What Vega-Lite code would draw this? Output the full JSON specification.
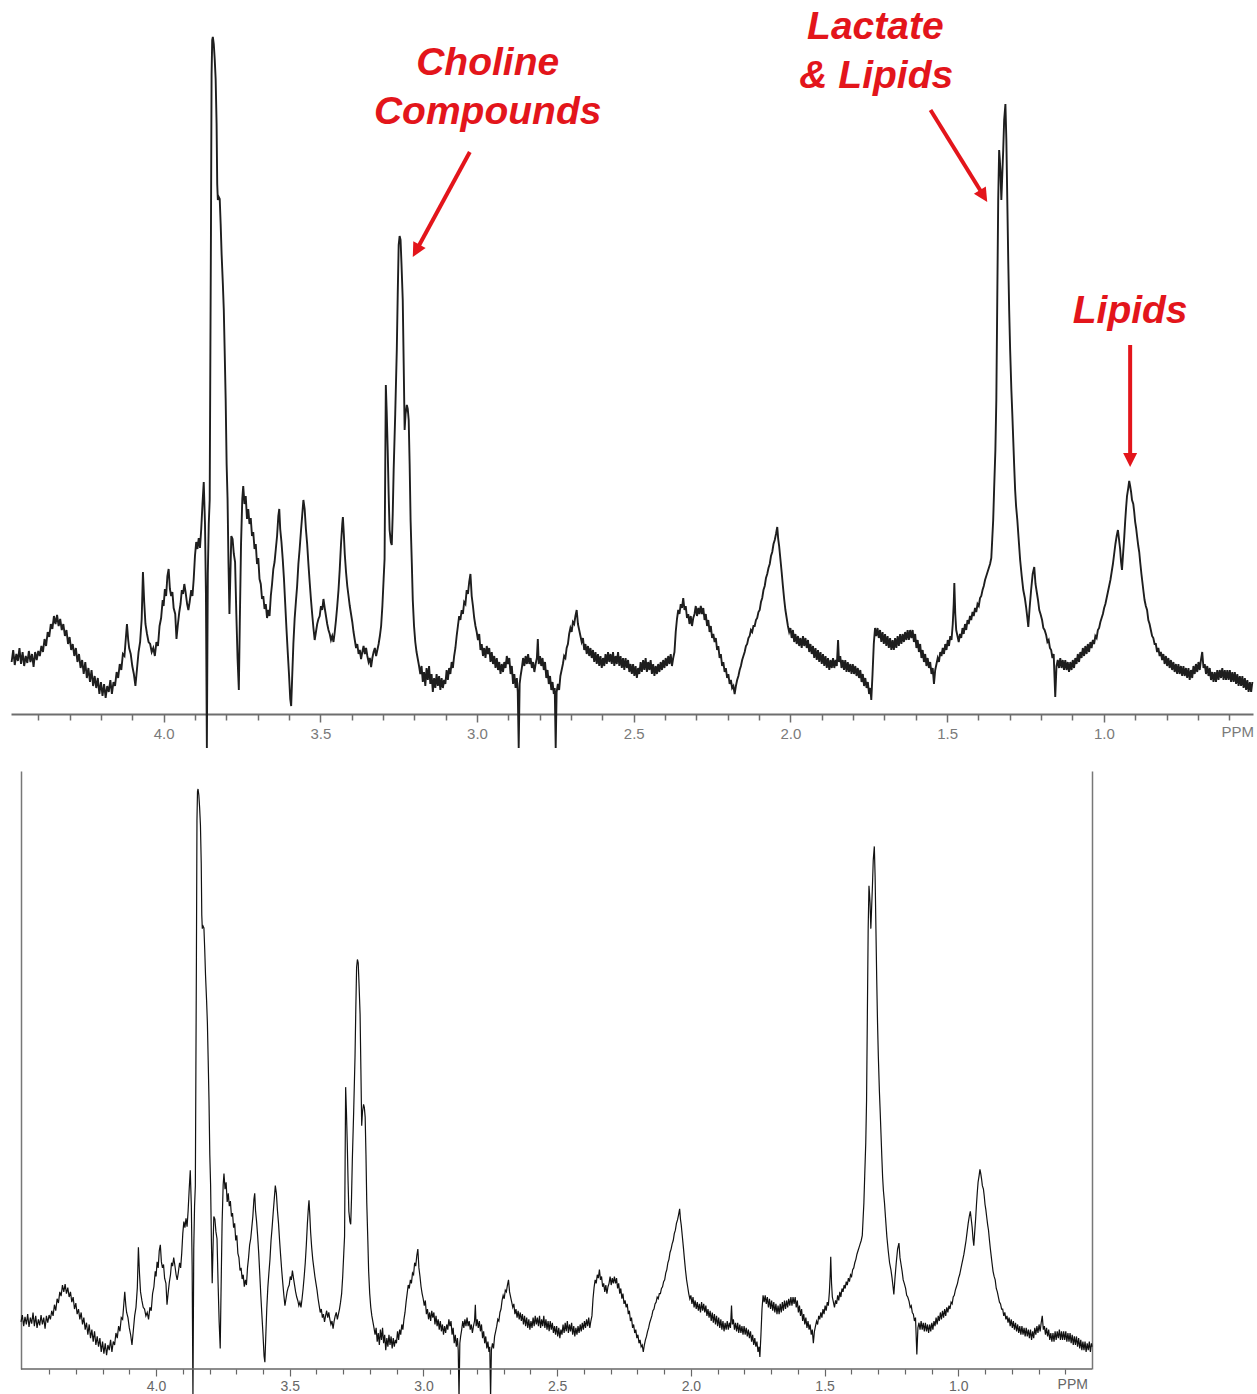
{
"$schema": "https://vega.github.io/schema/vega-lite/v6.json",
"padding": {"left": 7, "top": 0, "right": 0, "bottom": 0},
"background": "white",
"config": {"view": {"stroke": null}, "font": "Liberation Sans"},
"spacing": 19,
"datasets": {
"spec": [
{"p":4.505,"v":55},{"p":4.500,"v":63},{"p":4.495,"v":50},{"p":4.490,"v":61},{"p":4.485,"v":52},{"p":4.480,"v":64},{"p":4.475,"v":49},{"p":4.470,"v":60},{"p":4.465,"v":53},{"p":4.460,"v":66},{"p":4.455,"v":50},{"p":4.450,"v":62},{"p":4.445,"v":48},{"p":4.440,"v":58},{"p":4.435,"v":51},{"p":4.430,"v":63},{"p":4.425,"v":52},{"p":4.420,"v":60},{"p":4.415,"v":47},{"p":4.410,"v":62},{"p":4.405,"v":54},{"p":4.400,"v":63},
{"p":4.395,"v":58},{"p":4.390,"v":68},{"p":4.385,"v":62},{"p":4.380,"v":75},{"p":4.375,"v":68},{"p":4.370,"v":82},{"p":4.365,"v":77},{"p":4.360,"v":90},{"p":4.355,"v":85},{"p":4.350,"v":98},{"p":4.345,"v":90},{"p":4.340,"v":99},{"p":4.335,"v":88},{"p":4.330,"v":95},{"p":4.325,"v":84},{"p":4.320,"v":90},{"p":4.315,"v":78},{"p":4.310,"v":84},{"p":4.305,"v":70},{"p":4.300,"v":77},
{"p":4.295,"v":64},{"p":4.290,"v":70},{"p":4.285,"v":58},{"p":4.280,"v":66},{"p":4.275,"v":52},{"p":4.270,"v":60},{"p":4.265,"v":46},{"p":4.260,"v":54},{"p":4.255,"v":40},{"p":4.250,"v":52},{"p":4.245,"v":36},{"p":4.240,"v":46},{"p":4.235,"v":32},{"p":4.230,"v":44},{"p":4.225,"v":28},{"p":4.220,"v":38},{"p":4.215,"v":26},{"p":4.210,"v":36},{"p":4.205,"v":20},{"p":4.200,"v":32},
{"p":4.195,"v":18},{"p":4.190,"v":30},{"p":4.185,"v":16},{"p":4.180,"v":28},{"p":4.175,"v":22},{"p":4.170,"v":34},{"p":4.165,"v":20},{"p":4.160,"v":32},{"p":4.155,"v":28},{"p":4.150,"v":42},{"p":4.145,"v":36},{"p":4.140,"v":50},{"p":4.135,"v":44},{"p":4.130,"v":60},{"p":4.125,"v":58},{"p":4.120,"v":78},{"p":4.117,"v":90},{"p":4.113,"v":74},{"p":4.110,"v":66},{"p":4.105,"v":60},{"p":4.100,"v":48},
{"p":4.095,"v":40},{"p":4.090,"v":28},{"p":4.085,"v":45},{"p":4.080,"v":62},{"p":4.075,"v":72},{"p":4.070,"v":95},{"p":4.066,"v":142},{"p":4.062,"v":112},{"p":4.058,"v":90},{"p":4.053,"v":80},{"p":4.048,"v":72},{"p":4.043,"v":70},{"p":4.038,"v":62},{"p":4.033,"v":66},{"p":4.028,"v":58},{"p":4.023,"v":72},{"p":4.018,"v":68},{"p":4.013,"v":88},{"p":4.008,"v":96},{"p":4.003,"v":114},{"p":4.000,"v":108},
{"p":3.996,"v":125},{"p":3.992,"v":118},{"p":3.988,"v":138},{"p":3.984,"v":145},{"p":3.980,"v":125},{"p":3.976,"v":118},{"p":3.972,"v":122},{"p":3.968,"v":106},{"p":3.963,"v":100},{"p":3.959,"v":75},{"p":3.955,"v":88},{"p":3.950,"v":102},{"p":3.946,"v":110},{"p":3.942,"v":124},{"p":3.938,"v":120},{"p":3.934,"v":130},{"p":3.930,"v":122},{"p":3.925,"v":110},{"p":3.921,"v":104},{"p":3.917,"v":112},{"p":3.912,"v":124},{"p":3.908,"v":118},{"p":3.904,"v":135},{"p":3.900,"v":158},
{"p":3.896,"v":172},{"p":3.892,"v":165},{"p":3.888,"v":176},{"p":3.884,"v":166},{"p":3.880,"v":185},{"p":3.876,"v":210},{"p":3.872,"v":232},{"p":3.868,"v":190},{"p":3.865,"v":120},{"p":3.862,"v":-34},{"p":3.859,"v":140},{"p":3.856,"v":190},{"p":3.853,"v":214},{"p":3.851,"v":350},{"p":3.849,"v":480},{"p":3.847,"v":640},{"p":3.845,"v":674},{"p":3.843,"v":677},{"p":3.840,"v":670},{"p":3.837,"v":655},{"p":3.834,"v":635},{"p":3.831,"v":590},{"p":3.829,"v":530},{"p":3.827,"v":514},{"p":3.824,"v":517},{"p":3.821,"v":515},{"p":3.818,"v":490},{"p":3.815,"v":460},{"p":3.811,"v":430},{"p":3.808,"v":404},{"p":3.805,"v":360},{"p":3.802,"v":314},{"p":3.799,"v":250},{"p":3.796,"v":215},{"p":3.793,"v":150},{"p":3.790,"v":100},{"p":3.787,"v":140},{"p":3.784,"v":178},{"p":3.780,"v":175},{"p":3.776,"v":160},{"p":3.772,"v":152},{"p":3.768,"v":100},{"p":3.764,"v":55},{"p":3.760,"v":24},{"p":3.757,"v":90},{"p":3.753,"v":170},{"p":3.749,"v":215},{"p":3.746,"v":228},{"p":3.742,"v":210},{"p":3.738,"v":218},{"p":3.734,"v":195},{"p":3.730,"v":205},{"p":3.726,"v":190},{"p":3.722,"v":196},{"p":3.718,"v":178},{"p":3.714,"v":182},{"p":3.710,"v":165},{"p":3.706,"v":170},{"p":3.702,"v":150},{"p":3.698,"v":156},{"p":3.694,"v":135},{"p":3.690,"v":130},{"p":3.686,"v":115},{"p":3.682,"v":118},{"p":3.678,"v":105},{"p":3.674,"v":110},{"p":3.670,"v":96},{"p":3.666,"v":104},{"p":3.662,"v":98},{"p":3.658,"v":118},{"p":3.654,"v":130},{"p":3.650,"v":145},{"p":3.646,"v":152},{"p":3.642,"v":165},{"p":3.638,"v":178},{"p":3.634,"v":198},{"p":3.631,"v":205},{"p":3.628,"v":185},{"p":3.624,"v":172},{"p":3.620,"v":155},{"p":3.616,"v":135},{"p":3.612,"v":110},{"p":3.608,"v":85},{"p":3.604,"v":62},{"p":3.600,"v":40},{"p":3.596,"v":15},{"p":3.593,"v":8},{"p":3.590,"v":35},{"p":3.586,"v":70},{"p":3.582,"v":95},{"p":3.578,"v":112},{"p":3.574,"v":128},{"p":3.570,"v":150},{"p":3.566,"v":165},{"p":3.562,"v":182},{"p":3.558,"v":198},{"p":3.554,"v":214},{"p":3.550,"v":205},{"p":3.546,"v":185},{"p":3.542,"v":170},{"p":3.538,"v":150},{"p":3.534,"v":132},{"p":3.530,"v":115},{"p":3.526,"v":100},{"p":3.522,"v":86},{"p":3.518,"v":74},{"p":3.514,"v":82},{"p":3.510,"v":90},{"p":3.506,"v":95},{"p":3.502,"v":98},{"p":3.498,"v":108},{"p":3.494,"v":104},{"p":3.490,"v":115},{"p":3.486,"v":106},{"p":3.482,"v":98},{"p":3.478,"v":90},{"p":3.474,"v":84},{"p":3.470,"v":80},{"p":3.466,"v":74},{"p":3.462,"v":78},{"p":3.458,"v":72},{"p":3.454,"v":82},{"p":3.450,"v":94},{"p":3.446,"v":108},{"p":3.442,"v":124},{"p":3.438,"v":145},{"p":3.434,"v":170},{"p":3.430,"v":190},{"p":3.428,"v":197},{"p":3.425,"v":180},{"p":3.422,"v":160},{"p":3.418,"v":142},{"p":3.414,"v":128},{"p":3.410,"v":118},{"p":3.406,"v":108},{"p":3.402,"v":100},{"p":3.398,"v":92},{"p":3.394,"v":82},{"p":3.390,"v":74},{"p":3.386,"v":66},{"p":3.382,"v":70},{"p":3.378,"v":60},{"p":3.374,"v":64},{"p":3.370,"v":55},{"p":3.366,"v":62},{"p":3.362,"v":68},{"p":3.358,"v":60},{"p":3.354,"v":66},{"p":3.350,"v":58},{"p":3.346,"v":52},{"p":3.342,"v":56},{"p":3.338,"v":47},{"p":3.334,"v":56},{"p":3.330,"v":62},{"p":3.326,"v":66},{"p":3.322,"v":58},{"p":3.318,"v":64},{"p":3.314,"v":70},{"p":3.310,"v":78},{"p":3.306,"v":88},{"p":3.302,"v":108},{"p":3.298,"v":135},{"p":3.295,"v":155},{"p":3.293,"v":240},{"p":3.291,"v":329},{"p":3.288,"v":300},{"p":3.285,"v":264},{"p":3.282,"v":220},{"p":3.279,"v":184},{"p":3.275,"v":172},{"p":3.272,"v":169},{"p":3.269,"v":200},{"p":3.266,"v":244},{"p":3.261,"v":300},{"p":3.256,"v":364},{"p":3.253,"v":420},{"p":3.250,"v":469},{"p":3.247,"v":478},{"p":3.244,"v":474},{"p":3.241,"v":450},{"p":3.237,"v":414},{"p":3.234,"v":350},{"p":3.231,"v":284},{"p":3.228,"v":300},{"p":3.224,"v":309},{"p":3.221,"v":305},{"p":3.218,"v":294},{"p":3.215,"v":250},{"p":3.212,"v":194},{"p":3.208,"v":150},{"p":3.205,"v":114},{"p":3.201,"v":88},{"p":3.197,"v":72},{"p":3.193,"v":62},{"p":3.189,"v":55},{"p":3.185,"v":48},
{"p":3.181,"v":40},{"p":3.177,"v":48},{"p":3.173,"v":32},{"p":3.169,"v":42},{"p":3.165,"v":28},{"p":3.161,"v":46},{"p":3.157,"v":34},{"p":3.153,"v":48},{"p":3.149,"v":30},{"p":3.145,"v":40},{"p":3.141,"v":22},{"p":3.137,"v":36},{"p":3.133,"v":26},{"p":3.129,"v":40},{"p":3.125,"v":28},{"p":3.121,"v":38},{"p":3.117,"v":24},{"p":3.113,"v":36},{"p":3.109,"v":26},{"p":3.105,"v":34},{"p":3.101,"v":30},{"p":3.097,"v":44},{"p":3.093,"v":34},{"p":3.089,"v":46},{"p":3.085,"v":40},{"p":3.081,"v":52},{"p":3.077,"v":46},{"p":3.073,"v":58},
{"p":3.069,"v":66},{"p":3.065,"v":78},{"p":3.061,"v":88},{"p":3.057,"v":98},{"p":3.053,"v":94},{"p":3.049,"v":104},{"p":3.045,"v":100},{"p":3.041,"v":112},{"p":3.037,"v":110},{"p":3.033,"v":124},{"p":3.029,"v":120},{"p":3.025,"v":132},{"p":3.021,"v":140},{"p":3.017,"v":118},{"p":3.013,"v":108},{"p":3.009,"v":96},{"p":3.005,"v":88},{"p":3.001,"v":82},{"p":2.997,"v":74},{"p":2.993,"v":80},{"p":2.989,"v":64},{"p":2.985,"v":70},{"p":2.981,"v":58},{"p":2.977,"v":66},{"p":2.973,"v":56},{"p":2.969,"v":68},{"p":2.965,"v":60},{"p":2.961,"v":66},{"p":2.957,"v":52},{"p":2.953,"v":62},{"p":2.949,"v":50},{"p":2.945,"v":58},{"p":2.941,"v":46},{"p":2.937,"v":56},{"p":2.933,"v":44},{"p":2.929,"v":52},{"p":2.925,"v":40},{"p":2.921,"v":50},{"p":2.917,"v":42},{"p":2.913,"v":52},{"p":2.909,"v":46},{"p":2.905,"v":58},{"p":2.901,"v":50},{"p":2.897,"v":56},{"p":2.893,"v":40},{"p":2.889,"v":48},{"p":2.885,"v":30},{"p":2.881,"v":40},{"p":2.877,"v":26},{"p":2.873,"v":36},{"p":2.870,"v":22},{"p":2.867,"v":-34},{"p":2.864,"v":30},{"p":2.861,"v":38},{"p":2.857,"v":46},{"p":2.853,"v":56},{"p":2.849,"v":48},{"p":2.845,"v":58},{"p":2.841,"v":50},{"p":2.837,"v":60},{"p":2.833,"v":50},{"p":2.829,"v":56},{"p":2.825,"v":46},{"p":2.821,"v":52},{"p":2.817,"v":42},{"p":2.813,"v":50},{"p":2.809,"v":56},{"p":2.806,"v":75},{"p":2.803,"v":50},{"p":2.799,"v":58},{"p":2.795,"v":48},{"p":2.791,"v":56},{"p":2.787,"v":44},{"p":2.783,"v":52},{"p":2.779,"v":36},{"p":2.775,"v":44},{"p":2.771,"v":30},{"p":2.767,"v":38},{"p":2.763,"v":24},{"p":2.759,"v":32},{"p":2.755,"v":20},{"p":2.752,"v":26},{"p":2.749,"v":-34},{"p":2.746,"v":22},{"p":2.742,"v":30},{"p":2.738,"v":24},{"p":2.734,"v":38},{"p":2.730,"v":44},{"p":2.726,"v":50},{"p":2.722,"v":58},{"p":2.718,"v":56},{"p":2.714,"v":66},{"p":2.710,"v":70},{"p":2.706,"v":80},{"p":2.702,"v":86},{"p":2.698,"v":82},{"p":2.694,"v":92},{"p":2.690,"v":90},{"p":2.686,"v":98},{"p":2.682,"v":104},{"p":2.678,"v":90},{"p":2.674,"v":84},{"p":2.670,"v":78},{"p":2.666,"v":72},{"p":2.662,"v":76},{"p":2.658,"v":64},{"p":2.654,"v":70},{"p":2.650,"v":60},{"p":2.646,"v":68},{"p":2.642,"v":58},{"p":2.638,"v":66},{"p":2.634,"v":56},{"p":2.630,"v":64},{"p":2.626,"v":52},{"p":2.622,"v":62},{"p":2.618,"v":50},{"p":2.614,"v":60},{"p":2.610,"v":48},{"p":2.606,"v":58},{"p":2.602,"v":46},{"p":2.598,"v":56},{"p":2.594,"v":48},{"p":2.590,"v":60},{"p":2.586,"v":50},{"p":2.582,"v":62},{"p":2.578,"v":52},{"p":2.574,"v":60},{"p":2.570,"v":50},{"p":2.566,"v":62},{"p":2.562,"v":48},{"p":2.558,"v":58},{"p":2.554,"v":50},{"p":2.550,"v":62},{"p":2.546,"v":48},{"p":2.542,"v":58},{"p":2.538,"v":46},{"p":2.534,"v":56},{"p":2.530,"v":44},{"p":2.526,"v":56},{"p":2.522,"v":46},{"p":2.518,"v":54},{"p":2.514,"v":42},{"p":2.510,"v":50},{"p":2.506,"v":40},{"p":2.502,"v":50},{"p":2.498,"v":38},{"p":2.494,"v":48},{"p":2.490,"v":36},{"p":2.486,"v":46},{"p":2.482,"v":40},{"p":2.478,"v":52},{"p":2.474,"v":42},{"p":2.470,"v":54},{"p":2.466,"v":44},{"p":2.462,"v":56},{"p":2.458,"v":42},{"p":2.454,"v":52},{"p":2.450,"v":44},{"p":2.446,"v":54},{"p":2.442,"v":40},{"p":2.438,"v":50},{"p":2.434,"v":38},{"p":2.430,"v":48},{"p":2.426,"v":40},{"p":2.422,"v":50},{"p":2.418,"v":42},{"p":2.414,"v":52},{"p":2.410,"v":44},{"p":2.406,"v":54},{"p":2.402,"v":46},{"p":2.398,"v":56},{"p":2.394,"v":48},{"p":2.390,"v":58},{"p":2.386,"v":50},{"p":2.382,"v":60},{"p":2.378,"v":48},{"p":2.374,"v":56},{"p":2.370,"v":62},{"p":2.366,"v":82},{"p":2.362,"v":95},{"p":2.358,"v":104},{"p":2.354,"v":100},{"p":2.350,"v":110},{"p":2.346,"v":106},{"p":2.342,"v":116},{"p":2.338,"v":104},{"p":2.334,"v":108},{"p":2.330,"v":96},{"p":2.326,"v":100},{"p":2.322,"v":90},{"p":2.318,"v":98},{"p":2.314,"v":88},{"p":2.310,"v":96},{"p":2.306,"v":100},{"p":2.302,"v":108},{"p":2.298,"v":98},{"p":2.294,"v":106},{"p":2.290,"v":100},{"p":2.286,"v":108},{"p":2.282,"v":100},{"p":2.278,"v":106},{"p":2.274,"v":94},{"p":2.270,"v":100},{"p":2.266,"v":88},{"p":2.262,"v":94},{"p":2.258,"v":82},{"p":2.254,"v":88},{"p":2.250,"v":76},{"p":2.246,"v":80},{"p":2.242,"v":72},{"p":2.238,"v":76},{"p":2.234,"v":64},{"p":2.230,"v":68},{"p":2.226,"v":56},{"p":2.222,"v":60},{"p":2.218,"v":48},{"p":2.214,"v":52},{"p":2.210,"v":42},{"p":2.206,"v":46},{"p":2.202,"v":36},{"p":2.198,"v":40},{"p":2.194,"v":30},{"p":2.190,"v":34},{"p":2.186,"v":26},{"p":2.182,"v":28},{"p":2.178,"v":20},{"p":2.174,"v":28},{"p":2.170,"v":34},{"p":2.166,"v":38},{"p":2.162,"v":44},{"p":2.158,"v":48},{"p":2.154,"v":54},{"p":2.150,"v":58},{"p":2.146,"v":62},{"p":2.142,"v":68},{"p":2.138,"v":70},{"p":2.134,"v":76},{"p":2.130,"v":78},{"p":2.126,"v":84},{"p":2.122,"v":82},{"p":2.118,"v":88},{"p":2.114,"v":88},{"p":2.110,"v":94},{"p":2.106,"v":96},{"p":2.102,"v":102},{"p":2.098,"v":104},{"p":2.094,"v":112},{"p":2.090,"v":116},{"p":2.086,"v":124},{"p":2.082,"v":128},{"p":2.078,"v":136},{"p":2.074,"v":140},{"p":2.070,"v":146},{"p":2.066,"v":150},{"p":2.062,"v":158},{"p":2.058,"v":162},{"p":2.054,"v":170},{"p":2.050,"v":174},{"p":2.046,"v":180},{"p":2.042,"v":187},{"p":2.039,"v":175},{"p":2.036,"v":168},{"p":2.032,"v":155},{"p":2.028,"v":142},{"p":2.024,"v":128},{"p":2.020,"v":115},{"p":2.016,"v":104},{"p":2.012,"v":96},{"p":2.008,"v":88},{"p":2.004,"v":82},{"p":2.000,"v":86},{"p":1.996,"v":76},{"p":1.992,"v":84},{"p":1.988,"v":72},{"p":1.984,"v":80},{"p":1.980,"v":70},{"p":1.976,"v":78},{"p":1.972,"v":68},{"p":1.968,"v":76},{"p":1.964,"v":66},{"p":1.960,"v":78},{"p":1.956,"v":68},{"p":1.952,"v":76},{"p":1.948,"v":66},{"p":1.944,"v":74},{"p":1.940,"v":62},{"p":1.936,"v":70},{"p":1.932,"v":60},{"p":1.928,"v":68},{"p":1.924,"v":56},{"p":1.920,"v":66},{"p":1.916,"v":54},{"p":1.912,"v":64},{"p":1.908,"v":52},{"p":1.904,"v":62},{"p":1.900,"v":50},{"p":1.896,"v":60},{"p":1.892,"v":48},{"p":1.888,"v":58},{"p":1.884,"v":46},{"p":1.880,"v":56},{"p":1.876,"v":44},{"p":1.872,"v":54},{"p":1.868,"v":46},{"p":1.864,"v":56},{"p":1.860,"v":46},{"p":1.856,"v":54},{"p":1.852,"v":48},{"p":1.848,"v":74},{"p":1.845,"v":52},{"p":1.841,"v":58},{"p":1.837,"v":46},{"p":1.833,"v":54},{"p":1.829,"v":44},{"p":1.825,"v":54},{"p":1.821,"v":42},{"p":1.817,"v":52},{"p":1.813,"v":42},{"p":1.809,"v":50},{"p":1.805,"v":40},{"p":1.801,"v":50},{"p":1.797,"v":40},{"p":1.793,"v":48},{"p":1.789,"v":38},{"p":1.785,"v":46},{"p":1.781,"v":36},{"p":1.777,"v":44},{"p":1.773,"v":32},{"p":1.769,"v":40},{"p":1.765,"v":28},{"p":1.761,"v":36},{"p":1.757,"v":26},{"p":1.753,"v":32},{"p":1.749,"v":20},{"p":1.745,"v":26},{"p":1.742,"v":14},{"p":1.738,"v":40},{"p":1.734,"v":70},{"p":1.730,"v":86},{"p":1.726,"v":78},{"p":1.722,"v":86},{"p":1.718,"v":76},{"p":1.714,"v":84},{"p":1.710,"v":72},{"p":1.706,"v":82},{"p":1.702,"v":70},{"p":1.698,"v":80},{"p":1.694,"v":68},{"p":1.690,"v":78},{"p":1.686,"v":66},{"p":1.682,"v":76},{"p":1.678,"v":64},{"p":1.674,"v":74},{"p":1.670,"v":64},{"p":1.666,"v":76},{"p":1.662,"v":66},{"p":1.658,"v":78},{"p":1.654,"v":68},{"p":1.650,"v":80},{"p":1.646,"v":70},{"p":1.642,"v":80},{"p":1.638,"v":72},{"p":1.634,"v":82},{"p":1.630,"v":74},{"p":1.626,"v":84},{"p":1.622,"v":74},{"p":1.618,"v":84},{"p":1.614,"v":76},{"p":1.610,"v":84},{"p":1.606,"v":72},{"p":1.602,"v":80},{"p":1.598,"v":66},{"p":1.594,"v":74},{"p":1.590,"v":62},{"p":1.586,"v":70},{"p":1.582,"v":56},{"p":1.578,"v":64},{"p":1.574,"v":52},{"p":1.570,"v":60},{"p":1.566,"v":48},{"p":1.562,"v":56},{"p":1.558,"v":46},{"p":1.554,"v":52},{"p":1.550,"v":40},{"p":1.546,"v":46},{"p":1.542,"v":30},{"p":1.538,"v":44},{"p":1.534,"v":50},{"p":1.530,"v":56},{"p":1.526,"v":52},{"p":1.522,"v":62},{"p":1.518,"v":58},{"p":1.514,"v":66},{"p":1.510,"v":60},{"p":1.506,"v":70},{"p":1.502,"v":64},{"p":1.498,"v":74},{"p":1.494,"v":68},{"p":1.490,"v":78},{"p":1.486,"v":74},{"p":1.482,"v":90},{"p":1.479,"v":110},{"p":1.477,"v":131},{"p":1.474,"v":100},{"p":1.471,"v":84},{"p":1.467,"v":78},{"p":1.463,"v":72},{"p":1.459,"v":80},{"p":1.455,"v":76},{"p":1.451,"v":86},{"p":1.447,"v":80},{"p":1.443,"v":90},{"p":1.439,"v":84},{"p":1.435,"v":94},{"p":1.431,"v":90},{"p":1.427,"v":98},{"p":1.423,"v":94},{"p":1.419,"v":102},{"p":1.415,"v":98},{"p":1.411,"v":106},{"p":1.407,"v":102},{"p":1.403,"v":110},{"p":1.399,"v":108},{"p":1.395,"v":116},{"p":1.391,"v":118},{"p":1.387,"v":124},{"p":1.383,"v":128},{"p":1.379,"v":134},{"p":1.375,"v":138},{"p":1.371,"v":142},{"p":1.367,"v":146},{"p":1.363,"v":150},{"p":1.359,"v":156},{"p":1.356,"v":175},{"p":1.353,"v":194},{"p":1.350,"v":225},{"p":1.346,"v":264},{"p":1.343,"v":314},{"p":1.340,"v":414},{"p":1.337,"v":514},{"p":1.334,"v":564},{"p":1.332,"v":555},{"p":1.330,"v":544},{"p":1.327,"v":514},{"p":1.324,"v":539},{"p":1.321,"v":564},{"p":1.318,"v":594},{"p":1.314,"v":610},{"p":1.311,"v":574},{"p":1.308,"v":514},{"p":1.305,"v":454},{"p":1.302,"v":404},{"p":1.299,"v":365},{"p":1.295,"v":324},{"p":1.292,"v":300},{"p":1.289,"v":274},{"p":1.286,"v":248},{"p":1.283,"v":224},{"p":1.280,"v":208},{"p":1.276,"v":194},{"p":1.272,"v":176},{"p":1.267,"v":154},{"p":1.262,"v":138},{"p":1.257,"v":124},{"p":1.252,"v":116},{"p":1.248,"v":107},{"p":1.244,"v":96},{"p":1.241,"v":87},{"p":1.237,"v":105},{"p":1.232,"v":124},{"p":1.227,"v":140},{"p":1.222,"v":147},{"p":1.218,"v":130},{"p":1.214,"v":122},{"p":1.210,"v":114},{"p":1.206,"v":104},{"p":1.202,"v":100},{"p":1.197,"v":94},{"p":1.193,"v":86},{"p":1.189,"v":84},{"p":1.184,"v":79},{"p":1.180,"v":72},{"p":1.176,"v":74},{"p":1.172,"v":66},{"p":1.168,"v":64},{"p":1.164,"v":56},{"p":1.160,"v":60},{"p":1.155,"v":17},{"p":1.151,"v":48},{"p":1.147,"v":54},{"p":1.143,"v":46},{"p":1.139,"v":56},{"p":1.135,"v":46},{"p":1.131,"v":54},{"p":1.127,"v":44},{"p":1.123,"v":54},{"p":1.119,"v":44},{"p":1.115,"v":52},{"p":1.111,"v":42},{"p":1.107,"v":52},{"p":1.103,"v":44},{"p":1.099,"v":54},{"p":1.095,"v":46},{"p":1.091,"v":56},{"p":1.087,"v":50},{"p":1.083,"v":60},{"p":1.079,"v":52},{"p":1.075,"v":62},{"p":1.071,"v":56},{"p":1.067,"v":66},{"p":1.063,"v":58},{"p":1.059,"v":68},{"p":1.055,"v":60},{"p":1.051,"v":70},{"p":1.047,"v":62},{"p":1.043,"v":72},{"p":1.039,"v":66},{"p":1.035,"v":74},{"p":1.031,"v":70},{"p":1.027,"v":78},{"p":1.023,"v":76},{"p":1.019,"v":84},{"p":1.015,"v":86},{"p":1.011,"v":92},{"p":1.007,"v":96},{"p":1.003,"v":100},{"p":0.999,"v":106},{"p":0.995,"v":110},{"p":0.991,"v":116},{"p":0.987,"v":122},{"p":0.983,"v":128},{"p":0.979,"v":134},{"p":0.975,"v":142},{"p":0.971,"v":150},{"p":0.967,"v":160},{"p":0.963,"v":170},{"p":0.959,"v":178},{"p":0.955,"v":184},{"p":0.952,"v":176},{"p":0.948,"v":165},{"p":0.945,"v":152},{"p":0.942,"v":144},{"p":0.939,"v":158},{"p":0.935,"v":176},{"p":0.932,"v":192},{"p":0.929,"v":206},{"p":0.926,"v":218},{"p":0.922,"v":226},{"p":0.919,"v":233},{"p":0.916,"v":228},{"p":0.913,"v":222},{"p":0.910,"v":214},{"p":0.906,"v":210},{"p":0.903,"v":202},{"p":0.900,"v":192},{"p":0.897,"v":186},{"p":0.894,"v":178},{"p":0.890,"v":168},{"p":0.887,"v":162},{"p":0.884,"v":152},{"p":0.880,"v":140},{"p":0.877,"v":132},{"p":0.874,"v":124},{"p":0.870,"v":114},{"p":0.866,"v":108},{"p":0.862,"v":104},{"p":0.858,"v":94},{"p":0.854,"v":90},{"p":0.850,"v":84},{"p":0.846,"v":78},{"p":0.842,"v":76},{"p":0.838,"v":70},{"p":0.834,"v":70},{"p":0.830,"v":62},{"p":0.826,"v":66},{"p":0.822,"v":58},{"p":0.818,"v":62},{"p":0.814,"v":54},{"p":0.810,"v":60},{"p":0.806,"v":50},{"p":0.802,"v":58},{"p":0.798,"v":48},{"p":0.794,"v":56},{"p":0.790,"v":46},{"p":0.786,"v":54},{"p":0.782,"v":44},{"p":0.778,"v":52},{"p":0.774,"v":42},{"p":0.770,"v":50},{"p":0.766,"v":40},{"p":0.762,"v":50},{"p":0.758,"v":40},{"p":0.754,"v":48},{"p":0.750,"v":38},{"p":0.746,"v":48},{"p":0.742,"v":38},{"p":0.738,"v":46},{"p":0.734,"v":36},{"p":0.730,"v":46},{"p":0.726,"v":34},{"p":0.722,"v":44},{"p":0.718,"v":36},{"p":0.714,"v":48},{"p":0.710,"v":40},{"p":0.706,"v":50},{"p":0.702,"v":42},{"p":0.698,"v":52},{"p":0.694,"v":44},{"p":0.690,"v":54},{"p":0.686,"v":62},{"p":0.682,"v":46},{"p":0.678,"v":50},{"p":0.674,"v":40},{"p":0.670,"v":48},{"p":0.666,"v":38},{"p":0.662,"v":46},{"p":0.658,"v":34},{"p":0.654,"v":42},{"p":0.650,"v":32},{"p":0.646,"v":42},{"p":0.642,"v":32},{"p":0.638,"v":44},{"p":0.634,"v":34},{"p":0.630,"v":44},{"p":0.626,"v":36},{"p":0.622,"v":46},{"p":0.618,"v":34},{"p":0.614,"v":44},{"p":0.610,"v":34},{"p":0.606,"v":44},{"p":0.602,"v":34},{"p":0.598,"v":44},{"p":0.594,"v":32},{"p":0.590,"v":42},{"p":0.586,"v":32},{"p":0.582,"v":42},{"p":0.578,"v":30},{"p":0.574,"v":40},{"p":0.570,"v":28},{"p":0.566,"v":38},{"p":0.562,"v":28},{"p":0.558,"v":38},{"p":0.554,"v":26},{"p":0.550,"v":36},{"p":0.546,"v":24},{"p":0.542,"v":34},{"p":0.538,"v":22},{"p":0.534,"v":32},{"p":0.530,"v":22},{"p":0.526,"v":32},{"p":0.522,"v":20},{"p":0.518,"v":30},{"p":0.514,"v":22},{"p":0.510,"v":32},{"p":0.506,"v":20},{"p":0.502,"v":30},{"p":0.500,"v":26}
],
"notes": [
{"label":"Choline","p":2.966,"v":651},
{"label":"Compounds","p":2.966,"v":602},
{"label":"Lactate","p":1.729,"v":687},
{"label":"& Lipids","p":1.726,"v":638},
{"label":"Lipids","p":0.916,"v":403}
],
"arrows": [
{"id":"a","p":3.023,"v":562,"p2":3.193,"v2":464,"tp":3.205,"tv":457},
{"id":"b","p":1.553,"v":604,"p2":1.385,"v2":519,"tp":1.372,"tv":512},
{"id":"c","p":0.916,"v":369,"p2":0.916,"v2":255,"tp":0.916,"tv":247}
]
},
"vconcat": [
{
"width": 1242,
"height": 714,
"layer": [
{
"data": {"name": "spec"},
"transform": [{"filter": "datum.p <= 4.487 && datum.p >= 0.524"}],
"mark": {"type": "line", "color": "#1e1e1e", "strokeWidth": 1.9, "clip": false},
"encoding": {
"x": {"field": "p", "type": "quantitative", "scale": {"domain": [0.524, 4.487], "reverse": true, "nice": false, "zero": false},
"axis": {"title": null, "grid": false, "tickCount": 200, "values": [4.4,4.3,4.2,4.1,4.0,3.9,3.8,3.7,3.6,3.5,3.4,3.3,3.2,3.1,3.0,2.9,2.8,2.7,2.6,2.5,2.4,2.3,2.2,2.1,2.0,1.9,1.8,1.7,1.6,1.5,1.4,1.3,1.2,1.1,1.0,0.9,0.8,0.7,0.6],
"labelExpr": "datum.value < 0.65 ? 'PPM' : (abs(datum.value * 2 - round(datum.value * 2)) < 0.01 ? format(datum.value, '.1f') : '')",
"labelOverlap": false, "labelFlush": false, "labelFontSize": 15, "labelColor": "#7a7a7a", "labelPadding": 4, "labelFont": "Liberation Sans",
"labelOffset": {"condition": {"test": "datum.value < 0.65", "value": 8}, "value": 0},
"domainColor": "#6e6e6e", "domainWidth": 2.2, "tickColor": "#6e6e6e", "tickWidth": 1.5,
"tickSize": {"condition": {"test": "abs(datum.value * 2 - round(datum.value * 2)) < 0.01", "value": 8}, "value": 6}}},
"y": {"field": "v", "type": "quantitative", "scale": {"domain": [0, 714], "nice": false, "zero": false}, "axis": null}
}
},
{
"data": {"name": "arrows"},
"mark": {"type": "rule", "color": "#e3151b", "strokeWidth": 4},
"encoding": {
"x": {"field": "p", "type": "quantitative", "scale": {"domain": [0.524, 4.487], "reverse": true, "nice": false, "zero": false}, "title": null},
"y": {"field": "v", "type": "quantitative", "scale": {"domain": [0, 714], "nice": false, "zero": false}, "axis": null},
"x2": {"field": "p2"},
"y2": {"field": "v2"}
}
},
{
"data": {"name": "arrows"},
"transform": [{"filter": "datum.id == 'a'"}],
"mark": {"type": "point", "shape": "M-0.7,-1.4L0.7,-1.4L0,0Z", "size": 400, "filled": true, "color": "#e3151b", "opacity": 1, "strokeWidth": 0, "angle": 28.5},
"encoding": {
"x": {"field": "tp", "type": "quantitative", "scale": {"domain": [0.524, 4.487], "reverse": true, "nice": false, "zero": false}, "title": null},
"y": {"field": "tv", "type": "quantitative", "scale": {"domain": [0, 714], "nice": false, "zero": false}, "axis": null}
}
},
{
"data": {"name": "arrows"},
"transform": [{"filter": "datum.id == 'b'"}],
"mark": {"type": "point", "shape": "M-0.7,-1.4L0.7,-1.4L0,0Z", "size": 400, "filled": true, "color": "#e3151b", "opacity": 1, "strokeWidth": 0, "angle": 328.2},
"encoding": {
"x": {"field": "tp", "type": "quantitative", "scale": {"domain": [0.524, 4.487], "reverse": true, "nice": false, "zero": false}, "title": null},
"y": {"field": "tv", "type": "quantitative", "scale": {"domain": [0, 714], "nice": false, "zero": false}, "axis": null}
}
},
{
"data": {"name": "arrows"},
"transform": [{"filter": "datum.id == 'c'"}],
"mark": {"type": "point", "shape": "M-0.7,-1.4L0.7,-1.4L0,0Z", "size": 400, "filled": true, "color": "#e3151b", "opacity": 1, "strokeWidth": 0, "angle": 0},
"encoding": {
"x": {"field": "tp", "type": "quantitative", "scale": {"domain": [0.524, 4.487], "reverse": true, "nice": false, "zero": false}, "title": null},
"y": {"field": "tv", "type": "quantitative", "scale": {"domain": [0, 714], "nice": false, "zero": false}, "axis": null}
}
},
{
"data": {"name": "notes"},
"mark": {"type": "text", "font": "Liberation Sans", "fontSize": 39, "fontWeight": "bold", "fontStyle": "italic", "color": "#e3151b", "align": "center", "baseline": "middle"},
"encoding": {
"x": {"field": "p", "type": "quantitative", "scale": {"domain": [0.524, 4.487], "reverse": true, "nice": false, "zero": false}, "title": null},
"y": {"field": "v", "type": "quantitative", "scale": {"domain": [0, 714], "nice": false, "zero": false}, "axis": null},
"text": {"field": "label"}
}
}
]
},
{
"width": 1081,
"height": 598,
"layer": [
{
"data": {"name": "spec"},
"mark": {"type": "line", "color": "#111111", "strokeWidth": 1.2, "clip": false},
"encoding": {
"x": {"field": "p", "type": "quantitative", "scale": {"domain": [0.5, 4.5424], "reverse": true, "nice": false, "zero": false},
"axis": {"title": null, "grid": false, "domain": false, "tickCount": 200, "values": [4.4,4.3,4.2,4.1,4.0,3.9,3.8,3.7,3.6,3.5,3.4,3.3,3.2,3.1,3.0,2.9,2.8,2.7,2.6,2.5,2.4,2.3,2.2,2.1,2.0,1.9,1.8,1.7,1.6,1.5,1.4,1.3,1.2,1.1,1.0,0.9,0.8,0.7,0.6],
"labelExpr": "datum.value < 0.65 ? 'PPM' : (abs(datum.value * 2 - round(datum.value * 2)) < 0.01 ? format(datum.value, '.1f') : '')",
"labelOverlap": false, "labelFlush": false, "labelFontSize": 14, "labelColor": "#666666", "labelPadding": 3, "labelFont": "Liberation Sans",
"labelOffset": {"condition": {"test": "datum.value < 0.65", "value": 7}, "value": 0},
"tickColor": "#666666", "tickWidth": 1.2,
"tickSize": {"condition": {"test": "abs(datum.value * 2 - round(datum.value * 2)) < 0.01", "value": 7}, "value": 5}}},
"y": {"field": "v", "type": "quantitative", "scale": {"domain": [0, 698], "nice": false, "zero": false},
"axis": {"orient": "left", "offset": -10, "title": null, "grid": false, "labels": false, "ticks": false, "domain": true, "domainColor": "#777777", "domainWidth": 1.5}}
}
},
{
"data": {"values": [{}]},
"mark": {"type": "rule", "color": "#666666", "strokeWidth": 1.5},
"encoding": {
"x": {"datum": 4.505, "type": "quantitative", "scale": {"domain": [0.5, 4.5424], "reverse": true, "nice": false, "zero": false}},
"x2": {"datum": 0.5},
"y": {"datum": 0, "type": "quantitative", "scale": {"domain": [0, 698], "nice": false, "zero": false}, "axis": null}
}
},
{
"data": {"name": "spec"},
"mark": {"type": "line", "opacity": 0, "clip": false},
"encoding": {
"x": {"field": "p", "type": "quantitative", "scale": {"domain": [0.5, 4.5424], "reverse": true, "nice": false, "zero": false}, "title": null},
"y": {"field": "v", "type": "quantitative", "scale": {"domain": [0, 698], "nice": false, "zero": false},
"axis": {"orient": "right", "title": null, "grid": false, "labels": false, "ticks": false, "domain": true, "domainColor": "#777777", "domainWidth": 1.5}}
}
}
],
"resolve": {"axis": {"y": "independent"}}
}
]
}
